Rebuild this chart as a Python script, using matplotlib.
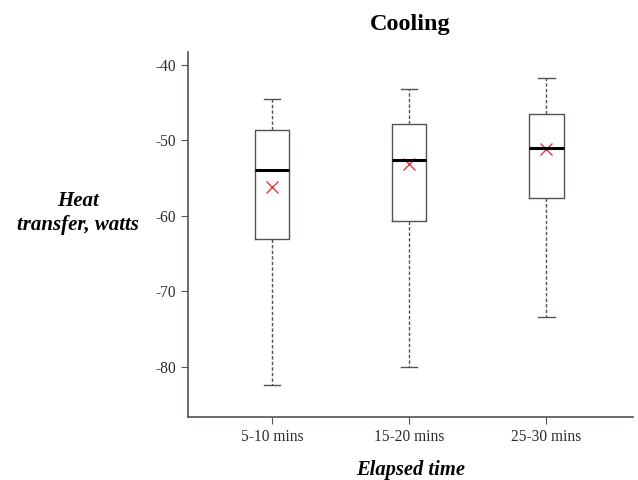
import numpy as np
import matplotlib
matplotlib.use('Agg')
import matplotlib.pyplot as plt

plt.rcParams['font.family'] = ['Liberation Serif', 'DejaVu Serif']
plt.rcParams['axes.unicode_minus'] = False

# dados
categorias = ['5-10 mins', '15-20 mins', '25-30 mins']
whisker_alto = [-44.6, -43.2, -41.8]
q3 = [-48.7, -47.8, -46.5]
mediana = [-53.9, -52.6, -51.0]
media = [-56.2, -53.2, -51.2]
q1 = [-63.1, -60.7, -57.7]
whisker_baixo = [-82.4, -80.0, -73.4]

stats = []
for i in range(len(categorias)):
    stats.append({'label': categorias[i], 'med': mediana[i], 'q1': q1[i], 'q3': q3[i],
                  'whislo': whisker_baixo[i], 'whishi': whisker_alto[i], 'fliers': []})

fig = plt.figure(figsize=(6.38, 4.8), dpi=100)
ax = fig.add_axes([0.295, 0.131, 0.697, 0.761])

cinza = '#5a5050'
pos = np.arange(1, len(categorias) + 1)
ax.bxp(stats, positions=pos, widths=0.25, showfliers=False,
       boxprops=dict(color=cinza, linewidth=1.0),
       whiskerprops=dict(color=cinza, linewidth=1.0, linestyle=(0, (2.5, 1.5))),
       capprops=dict(color=cinza, linewidth=1.0),
       medianprops=dict(color='black', linewidth=2.2),
       capwidths=0.12)
ax.plot(pos, media, linestyle='none', marker='x', color='#e03c3c', markersize=8, markeredgewidth=1.0)

ax.set_xlim(0.39, 3.63)
ax.set_ylim(-86.7, -38.3)
ax.set_yticks([-40, -50, -60, -70, -80])
ax.set_xticks(pos)
ax.set_xticklabels(categorias)

for s in ['top', 'right']:
    ax.spines[s].set_visible(False)
for s in ['left', 'bottom']:
    ax.spines[s].set_color(cinza)
    ax.spines[s].set_linewidth(1.2)
ax.tick_params(colors=cinza, labelcolor='#2a2a2a', labelsize=11.2, length=5)

ax.set_title('Cooling', fontsize=17.5, fontweight='bold', pad=16)
ax.set_xlabel('Elapsed time', fontsize=14.8, fontweight='bold', fontstyle='italic', labelpad=11)
fig.text(0.122, 0.556, 'Heat\ntransfer, watts', fontsize=15, fontweight='bold', fontstyle='italic',
         ha='center', va='center', linespacing=1.3)

fig.savefig('out.png', dpi=100)
